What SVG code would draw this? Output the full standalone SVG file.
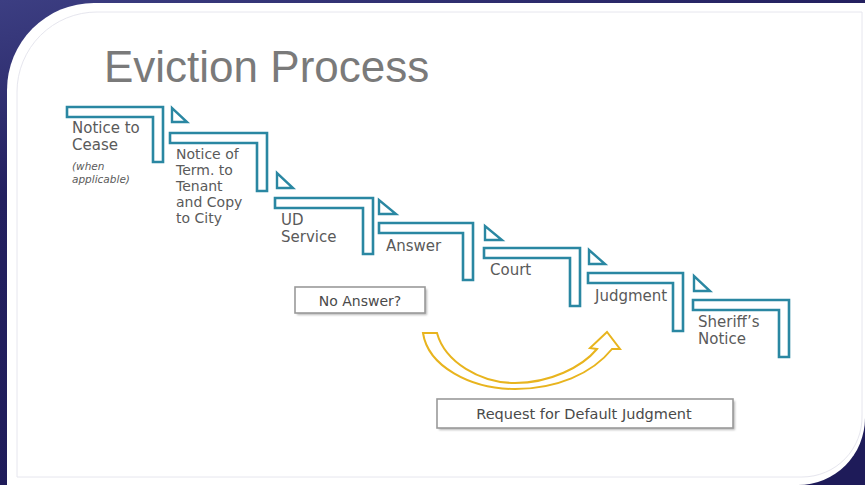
<svg xmlns="http://www.w3.org/2000/svg" width="865" height="485" viewBox="0 0 865 485">
  <defs>
    <linearGradient id="navy" x1="0" y1="0" x2="0.4" y2="1">
      <stop offset="0" stop-color="#3c3e82"/>
      <stop offset="0.35" stop-color="#23205f"/>
      <stop offset="1" stop-color="#1e1b59"/>
    </linearGradient>
    <filter id="soft" x="-10%" y="-10%" width="130%" height="140%">
      <feGaussianBlur stdDeviation="1.2"/>
    </filter>
  </defs>
  <style>
    .step { fill: #ffffff; stroke: #2a87a2; stroke-width: 2.6; stroke-linejoin: miter; }
    .tri { fill: #ffffff; stroke: #2a87a2; stroke-width: 2.4; stroke-linejoin: miter; }
    .lbl { font-family: "DejaVu Sans", "Liberation Sans", sans-serif; font-size: 15px; fill: #5a5a5a; }
    .tight { font-size: 14px; }
    .note { font-family: "DejaVu Sans", "Liberation Sans", sans-serif; font-size: 10.5px; font-style: italic; fill: #5a5a5a; }
    .title { font-family: "Liberation Sans", "DejaVu Sans", sans-serif; font-size: 44px; fill: #7a7a7a; }
    .boxtxt { font-family: "DejaVu Sans", "Liberation Sans", sans-serif; font-size: 14px; fill: #4a4a4a; text-anchor: middle; }
    .box { fill: #ffffff; stroke: #9a9a9a; stroke-width: 1.6; }
    .shadow { fill: #b8b8b8; filter: url(#soft); }
    .curve { fill: #ffffff; stroke: #e8b41e; stroke-width: 2; stroke-linejoin: miter; }
  </style>

  <!-- backdrop and slide panel -->
  <rect x="0" y="0" width="865" height="485" fill="url(#navy)"/>
  <path d="M 7 485 V 90 A 87 87 0 0 1 94 3 H 865 V 418 A 67 67 0 0 1 798 485 Z" fill="#ffffff"/>
  <path d="M 17 477 V 92 A 80 80 0 0 1 97 12 H 862 V 415 A 60 60 0 0 1 802 477 Z" fill="none" stroke="#e6e6ee" stroke-width="1"/>

  <text class="title" x="104" y="82">Eviction Process</text>

  <!-- connectors -->
  <g id="connectors">
    <path class="curve" d="M 423 333 L 437 333 C 445 362 480 383 515 383 C 550 383 582 367 597 349 L 590 348 L 607 332 L 620 349 L 612 349 C 592 374 556 389 515 389 C 470 389 428 366 423 333 Z"/>
  </g>

  <!-- stage markers -->
  <g id="markers">
    <path class="tri" d="M 172 108 V 122 H 187 Z"/>
    <path class="tri" d="M 277 173 V 188 H 293 Z"/>
    <path class="tri" d="M 379 200 V 214 H 396 Z"/>
    <path class="tri" d="M 485 226 V 240 H 502 Z"/>
    <path class="tri" d="M 589 250 V 264 H 605 Z"/>
    <path class="tri" d="M 694 276 V 291 H 710 Z"/>
  </g>

  <g id="notice-to-cease">
    <path class="step" d="M 67 107 H 163 V 162 H 153 V 117 H 67 Z"/>
    <text class="lbl" x="72" y="133">Notice to</text>
    <text class="lbl" x="72" y="150">Cease</text>
    <text class="note" x="72" y="170">(when</text>
    <text class="note" x="72" y="183">applicable)</text>
  </g>

  <g id="notice-of-termination">
    <path class="step" d="M 170 133 H 267 V 191 H 257 V 143 H 170 Z"/>
    <text class="lbl tight" x="176" y="159">Notice of</text>
    <text class="lbl tight" x="176" y="175">Term. to</text>
    <text class="lbl tight" x="176" y="191">Tenant</text>
    <text class="lbl tight" x="176" y="207">and Copy</text>
    <text class="lbl tight" x="176" y="223">to City</text>
  </g>

  <g id="ud-service">
    <path class="step" d="M 275 198 H 373 V 254 H 363 V 208 H 275 Z"/>
    <text class="lbl" x="281" y="225">UD</text>
    <text class="lbl" x="281" y="242">Service</text>
  </g>

  <g id="answer">
    <path class="step" d="M 379 223 H 473 V 280 H 463 V 233 H 379 Z"/>
    <text class="lbl" x="386" y="251">Answer</text>
  </g>

  <g id="court">
    <path class="step" d="M 484 248 H 580 V 306 H 570 V 258 H 484 Z"/>
    <text class="lbl" x="490" y="275">Court</text>
  </g>

  <g id="judgment">
    <path class="step" d="M 588 273 H 683 V 331 H 673 V 283 H 588 Z"/>
    <text class="lbl" x="595" y="301">Judgment</text>
  </g>

  <g id="sheriffs-notice">
    <path class="step" d="M 693 300 H 789 V 357 H 779 V 310 H 693 Z"/>
    <text class="lbl" x="698" y="327">Sheriff’s</text>
    <text class="lbl" x="698" y="344">Notice</text>
  </g>

  <g id="no-answer">
    <rect class="shadow" x="297" y="289" width="130" height="26"/>
    <rect class="box" x="295" y="287" width="130" height="26"/>
    <text class="boxtxt" x="360" y="306">No Answer?</text>
  </g>

  <g id="default-judgment">
    <rect class="shadow" x="439" y="401" width="296" height="29"/>
    <rect class="box" x="437" y="399" width="296" height="29"/>
    <text class="boxtxt" x="584" y="419" style="font-size:14.5px">Request for Default Judgment</text>
  </g>
</svg>
